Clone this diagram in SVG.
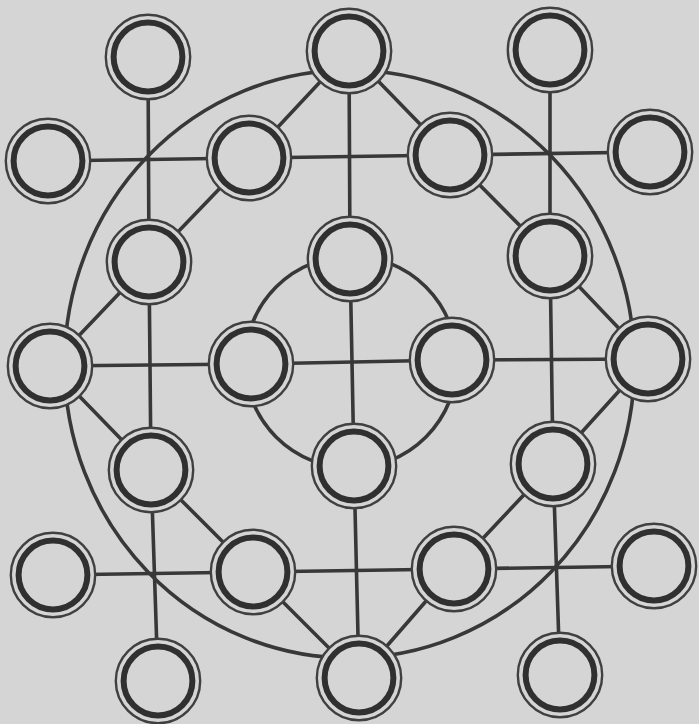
<svg xmlns="http://www.w3.org/2000/svg" width="699" height="724" viewBox="0 0 699 724">
<defs>
<style>
.bg{fill:#d5d5d5}
.c line,.c ellipse,.c circle{stroke:#383838;stroke-width:3.6;fill:none;stroke-linecap:round}
.ro{fill:#d5d5d5;stroke:#404040;stroke-width:2.4}
.ri{fill:none;stroke:#303030;stroke-width:6}
</style>
<g id="ring">
<circle class="ro" cx="0" cy="0" r="42.2"/>
<circle class="ri" cx="0" cy="0" r="34.4"/>
</g>
</defs>
<rect class="bg" x="0" y="0" width="699" height="724"/>
<g id="connectors" class="c">
<ellipse cx="349.5" cy="364" rx="285" ry="294"/>
<circle cx="351" cy="362" r="106"/>
<line x1="148" y1="57" x2="149" y2="262"/>
<line x1="149" y1="262" x2="151" y2="470"/>
<line x1="151" y1="470" x2="158" y2="681"/>
<line x1="349" y1="51" x2="350" y2="259"/>
<line x1="350" y1="259" x2="354" y2="466"/>
<line x1="354" y1="466" x2="359" y2="678"/>
<line x1="550" y1="50" x2="550" y2="256"/>
<line x1="550" y1="256" x2="553" y2="464"/>
<line x1="553" y1="464" x2="560" y2="675"/>
<line x1="48" y1="161" x2="249" y2="158"/>
<line x1="249" y1="158" x2="450" y2="155"/>
<line x1="450" y1="155" x2="650" y2="152"/>
<line x1="50" y1="366" x2="251" y2="364"/>
<line x1="251" y1="364" x2="452" y2="360"/>
<line x1="452" y1="360" x2="648" y2="359"/>
<line x1="53" y1="575" x2="253" y2="572"/>
<line x1="253" y1="572" x2="454" y2="569"/>
<line x1="454" y1="569" x2="654" y2="566"/>
<line x1="349" y1="51" x2="249" y2="158"/>
<line x1="349" y1="51" x2="450" y2="155"/>
<line x1="249" y1="158" x2="149" y2="262"/>
<line x1="149" y1="262" x2="50" y2="366"/>
<line x1="450" y1="155" x2="550" y2="256"/>
<line x1="550" y1="256" x2="648" y2="359"/>
<line x1="50" y1="366" x2="151" y2="470"/>
<line x1="151" y1="470" x2="253" y2="572"/>
<line x1="253" y1="572" x2="359" y2="678"/>
<line x1="648" y1="359" x2="553" y2="464"/>
<line x1="553" y1="464" x2="454" y2="569"/>
<line x1="454" y1="569" x2="359" y2="678"/>
</g>
<g id="nodes">
<g id="n1"><use href="#ring" x="148" y="57"/></g>
<g id="n2"><use href="#ring" x="349" y="51"/></g>
<g id="n3"><use href="#ring" x="550" y="50"/></g>
<g id="n4"><use href="#ring" x="48" y="161"/></g>
<g id="n5"><use href="#ring" x="249" y="158"/></g>
<g id="n6"><use href="#ring" x="450" y="155"/></g>
<g id="n7"><use href="#ring" x="650" y="152"/></g>
<g id="n8"><use href="#ring" x="149" y="262"/></g>
<g id="n9"><use href="#ring" x="350" y="259"/></g>
<g id="n10"><use href="#ring" x="550" y="256"/></g>
<g id="n11"><use href="#ring" x="50" y="366"/></g>
<g id="n12"><use href="#ring" x="251" y="364"/></g>
<g id="n13"><use href="#ring" x="452" y="360"/></g>
<g id="n14"><use href="#ring" x="648" y="359"/></g>
<g id="n15"><use href="#ring" x="151" y="470"/></g>
<g id="n16"><use href="#ring" x="354" y="466"/></g>
<g id="n17"><use href="#ring" x="553" y="464"/></g>
<g id="n18"><use href="#ring" x="53" y="575"/></g>
<g id="n19"><use href="#ring" x="253" y="572"/></g>
<g id="n20"><use href="#ring" x="454" y="569"/></g>
<g id="n21"><use href="#ring" x="654" y="566"/></g>
<g id="n22"><use href="#ring" x="158" y="681"/></g>
<g id="n23"><use href="#ring" x="359" y="678"/></g>
<g id="n24"><use href="#ring" x="560" y="675"/></g>
</g>
</svg>
